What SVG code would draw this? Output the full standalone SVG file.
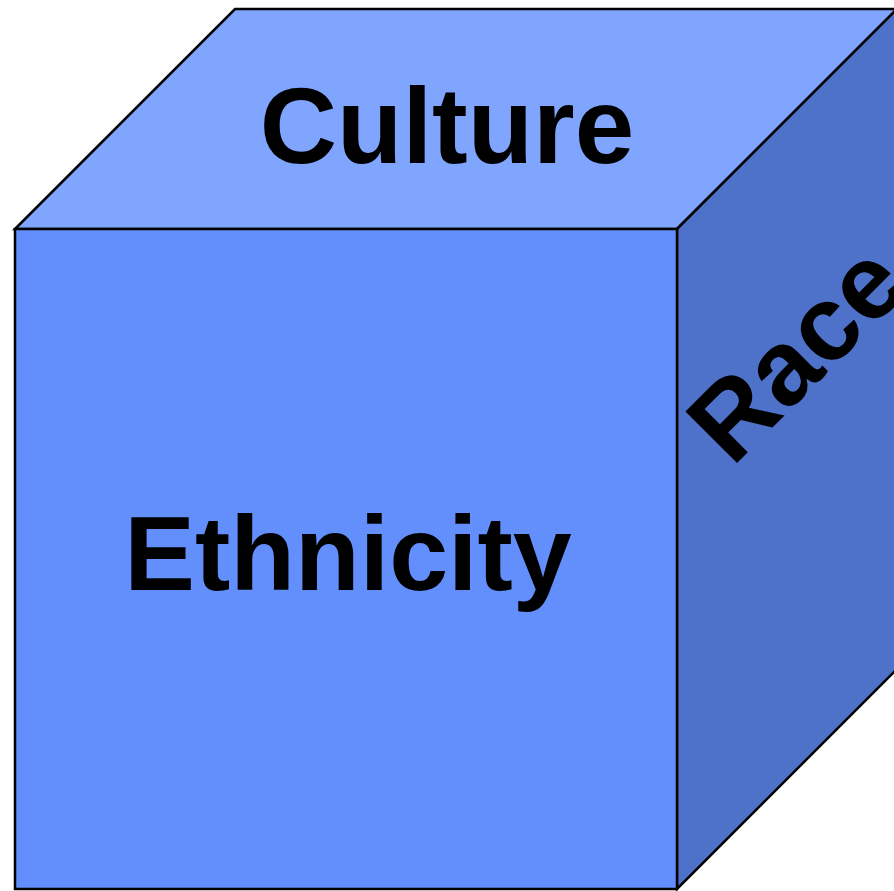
<svg xmlns="http://www.w3.org/2000/svg" width="894" height="891" viewBox="0 0 894 891">
  <style>
    .face { stroke: #000; stroke-width: 2.5; stroke-linejoin: miter; }
    .label { font-family: "Liberation Sans", Arial, sans-serif; font-weight: bold; font-size: 106px; fill: #000; }
  </style>
  <rect width="894" height="891" fill="#fff"/>
  <!-- top face -->
  <g id="top">
    <polygon class="face" points="15,229 235,9 897,9 677,229" fill="#7fa5ff"/>
    <text class="label" x="447" y="163" text-anchor="middle" style="font-size:107px">Culture</text>
  </g>
  <!-- right face; its label runs past the cube's edge -->
  <g id="right">
    <polygon class="face" points="677,229 897,9 897,669 677,889" fill="#4e72c9"/>
    <text class="label" x="732" y="468" transform="rotate(-45 732 468)">Race</text>
  </g>
  <!-- front face -->
  <g id="front">
    <rect class="face" x="15" y="229" width="662" height="660" fill="#628ffc"/>
    <text class="label" x="348" y="590" text-anchor="middle">Ethnicity</text>
  </g>
  <g id="connectors"/>
</svg>
